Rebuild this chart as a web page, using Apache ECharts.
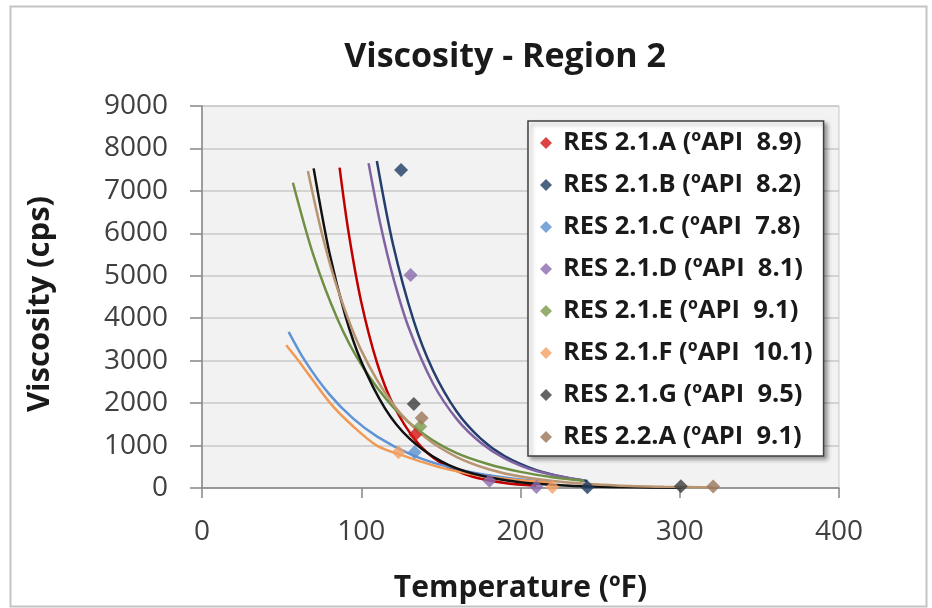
<!DOCTYPE html>
<html>
<head>
<meta charset="utf-8">
<script src="https://cdn.jsdelivr.net/npm/echarts@6/dist/echarts.min.js"></script>
<style>
  html, body { margin: 0; padding: 0; background: #fff; }
  #chart { width: 932px; height: 608px; }
</style>
</head>
<body>
<div id="chart"></div>
<script>
// Noms des séries (légende)
const seriesNames = [
  "RES 2.1.A (ºAPI  8.9)",
  "RES 2.1.B (ºAPI  8.2)",
  "RES 2.1.C (ºAPI  7.8)",
  "RES 2.1.D (ºAPI  8.1)",
  "RES 2.1.E (ºAPI  9.1)",
  "RES 2.1.F (ºAPI  10.1)",
  "RES 2.1.G (ºAPI  9.5)",
  "RES 2.2.A (ºAPI  9.1)"
];

// Points mesurés [température ºF, viscosité cps]
const pointsA = [[134, 1260]];
const pointsB = [[125, 7490], [242, 20]];
const pointsC = [[133.5, 840]];
const pointsD = [[131, 5020], [180.5, 170], [210, 25]];
const pointsE = [[137, 1450]];
const pointsF = [[123.4, 840], [220, 25]];
const pointsG = [[133, 1980], [300.7, 40]];
const points22A = [[138, 1650], [321, 35]];

// Courbes de tendance [température, viscosité]
const trendA = [[86.4, 7547], [92, 6030], [100, 4380], [110, 2936], [120, 1968], [135, 1080], [150, 593], [170, 266], [190, 120], [210, 54]];
const trendB = [[109.8, 7703], [120, 5729], [133, 3929], [145, 2774], [160, 1796], [175, 1163], [190, 753], [210, 421], [230, 236], [242, 167]];
const trendC = [[54.4, 3679], [65, 2976], [80, 2205], [95, 1633], [110, 1210], [130, 811], [150, 544], [175, 330], [200, 200], [220, 134]];
const trendD = [[104.6, 7649], [112, 6218], [120, 4970], [130, 3757], [145, 2468], [160, 1622], [175, 1066], [190, 700], [210, 400], [240, 170]];
const trendE = [[57.1, 7193], [70, 5480], [85, 3990], [100, 2910], [120, 1907], [140, 1250], [160, 821], [180, 560], [200, 380], [220, 255], [240, 170]];
const trendF = [[52.9, 3363], [60.6, 3000], [80.5, 2000], [95, 1450], [109.8, 1000], [125, 780], [150, 480], [175, 290], [200, 180], [220, 120]];
const trendG = [[70.1, 7530], [80, 5540], [90, 4063], [100, 2980], [115, 1872], [130, 1176], [150, 632], [170, 340], [200, 134], [240, 39], [300.7, 6]];
const trend22A = [[66.5, 7467], [75, 6040], [85, 4710], [100, 3243], [120, 1971], [140, 1198], [160, 728], [180, 442], [200, 269], [230, 127], [260, 60], [290, 29], [321, 13]];

// Graduations des axes
const xTicks = [0, 100, 200, 300, 400];
const yTicks = [0, 1000, 2000, 3000, 4000, 5000, 6000, 7000, 8000, 9000];

const allPoints = [pointsA, pointsB, pointsC, pointsD, pointsE, pointsF, pointsG, points22A];
const allTrends = [trendA, trendB, trendC, trendD, trendE, trendF, trendG, trend22A];

// Couleurs façon Excel 2007
const markerColors = ["#d41414", "#1f3b63", "#5b8fd0", "#8a6cae", "#7a9a4a", "#f2a065", "#3c3c3c", "#9a7658"];
const lineColors   = ["#c00000", "#253e6e", "#5f94d6", "#8064a2", "#6f8f45", "#f09a55", "#111111", "#b89470"];

const chart = echarts.init(document.getElementById("chart"));

const series = [];
allTrends.forEach((t, i) => {
  series.push({
    type: "line",
    data: t,
    smooth: 0.3,
    showSymbol: false,
    silent: true,
    z: 2,
    lineStyle: { color: lineColors[i], width: 2.5 }
  });
});
allPoints.forEach((p, i) => {
  series.push({
    name: seriesNames[i],
    type: "scatter",
    data: p,
    symbol: "diamond",
    symbolSize: 14,
    z: 3,
    itemStyle: { color: markerColors[i] }
  });
});

const labelFont = { fontFamily: "Open Sans", fontSize: 28, color: "#404040" };

const option = {
  animation: false,
  backgroundColor: "#ffffff",
  title: {
    text: "Viscosity - Region 2",
    left: 500,
    textAlign: "center",
    top: 35,
    textStyle: { fontFamily: "Open Sans", fontSize: 34, fontWeight: "bold", color: "#1a1a1a" }
  },
  graphic: [{
    type: "rect",
    left: 8, top: 4,
    shape: { width: 916, height: 600 },
    style: { fill: null, stroke: "#c4c4c4", lineWidth: 2 },
    silent: true
  }],
  grid: {
    left: 202, right: 93, top: 106, bottom: 120,
    show: true,
    backgroundColor: "#f2f2f2",
    borderColor: "#c8c8c8",
    borderWidth: 1
  },
  legend: {
    orient: "vertical",
    left: 528, top: 121,
    data: seriesNames.map(n => ({ name: n, icon: "path://M0,-1L1,0L0,1L-1,0Z" })),
    itemWidth: 24, itemHeight: 12,
    symbolKeepAspect: true,
    itemGap: 16,
    padding: [9, 11, 6, 12],
    backgroundColor: "#ffffff",
    borderColor: "#404040",
    borderWidth: 1.5,
    shadowColor: "rgba(0,0,0,0.35)",
    shadowBlur: 4,
    shadowOffsetX: 3,
    shadowOffsetY: 3,
    selectedMode: false,
    textStyle: { fontFamily: "Open Sans", fontSize: 25.5, fontWeight: "bold", color: "#1a1a1a" }
  },
  xAxis: {
    type: "value",
    min: xTicks[0], max: xTicks[xTicks.length - 1], interval: 100,
    name: "Temperature (ºF)",
    nameLocation: "middle",
    nameGap: 85,
    nameTextStyle: { fontFamily: "Open Sans", fontSize: 30, fontWeight: "bold", color: "#1a1a1a" },
    axisLine: { show: true, lineStyle: { color: "#868686", width: 1.5 } },
    axisTick: { show: true, length: 10, lineStyle: { color: "#868686", width: 1.5 } },
    axisLabel: Object.assign({ margin: 30, formatter: v => String(v) }, labelFont),
    splitLine: { show: false }
  },
  yAxis: {
    type: "value",
    min: yTicks[0], max: yTicks[yTicks.length - 1], interval: 1000,
    name: "Viscosity (cps)",
    nameLocation: "middle",
    nameGap: 146,
    nameTextStyle: { fontFamily: "Open Sans", fontSize: 31, fontWeight: "bold", color: "#1a1a1a", padding: [0, 14, 0, 0] },
    axisLine: { show: true, lineStyle: { color: "#868686", width: 1.5 } },
    axisTick: { show: true, length: 12, lineStyle: { color: "#868686", width: 1.5 } },
    axisLabel: Object.assign({ margin: 34, formatter: v => String(v) }, labelFont),
    splitLine: { show: true, lineStyle: { color: "#c8c8c8", width: 1.5 } }
  },
  series: series
};

chart.setOption(option);
</script>
</body>
</html>
